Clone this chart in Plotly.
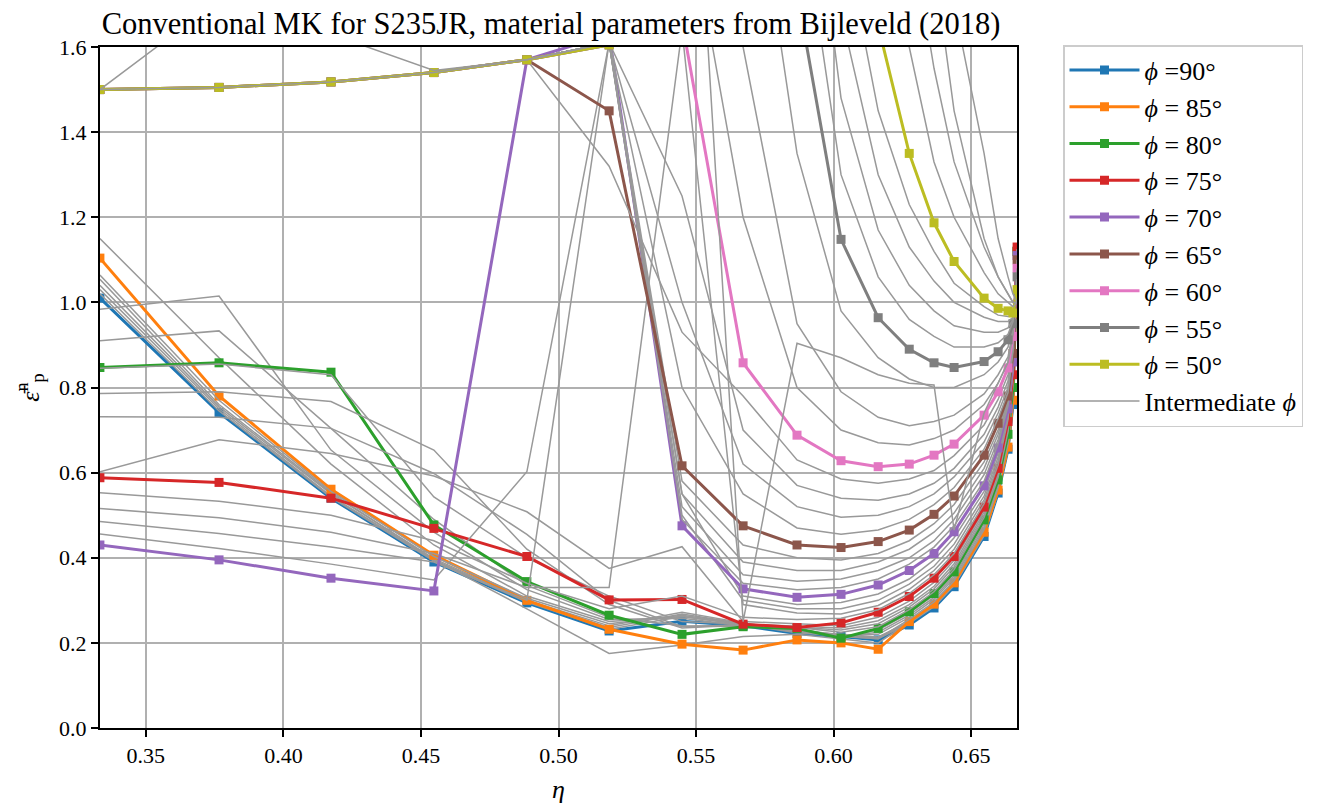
import plotly.graph_objects as go

# ---------------- data ----------------
eta = [0.3333, 0.3766, 0.4173, 0.4547, 0.4885, 0.5184, 0.5449, 0.5671, 0.5867, 0.6027,
       0.6162, 0.6275, 0.6365, 0.6438, 0.6547, 0.6598, 0.6634, 0.6652, 0.6667]

phi_labels = ["<i>\u03d5</i> =90\u00b0", "<i>\u03d5</i> = 85\u00b0", "<i>\u03d5</i> = 80\u00b0", "<i>\u03d5</i> = 75\u00b0",
              "<i>\u03d5</i> = 70\u00b0", "<i>\u03d5</i> = 65\u00b0", "<i>\u03d5</i> = 60\u00b0", "<i>\u03d5</i> = 55\u00b0",
              "<i>\u03d5</i> = 50\u00b0"]
grey_label = "Intermediate <i>\u03d5</i>"
phi_colors = ["#1f77b4", "#ff7f0e", "#2ca02c", "#d62728", "#9467bd", "#8c564b", "#e377c2", "#7f7f7f", "#bcbd22"]

phi90 = [1.010, 0.741, 0.540, 0.390, 0.294, 0.228, 0.251, 0.240, 0.222, 0.215, 0.207, 0.242, 0.282, 0.332, 0.450, 0.552, 0.655, 0.760, 1.12]
phi85 = [1.104, 0.780, 0.561, 0.406, 0.300, 0.232, 0.197, 0.183, 0.207, 0.200, 0.185, 0.250, 0.291, 0.341, 0.460, 0.559, 0.660, 0.770, 1.12]
phi80 = [0.847, 0.858, 0.836, 0.477, 0.344, 0.265, 0.220, 0.238, 0.234, 0.211, 0.234, 0.273, 0.316, 0.367, 0.489, 0.583, 0.690, 0.800, 1.12]
phi75 = [0.588, 0.577, 0.540, 0.469, 0.403, 0.301, 0.302, 0.244, 0.236, 0.247, 0.272, 0.309, 0.352, 0.403, 0.519, 0.610, 0.720, 0.830, 1.13]
phi70 = [0.430, 0.395, 0.352, 0.322, 1.570, 1.630, 0.475, 0.327, 0.307, 0.314, 0.336, 0.370, 0.410, 0.461, 0.569, 0.658, 0.750, 0.860, 1.11]
phi65 = [1.500, 1.505, 1.518, 1.540, 1.570, 1.450, 0.616, 0.475, 0.430, 0.424, 0.438, 0.465, 0.502, 0.545, 0.641, 0.716, 0.780, 0.880, 1.10]
phi60 = [1.500, 1.505, 1.518, 1.540, 1.570, 1.605, 1.660, 0.858, 0.688, 0.628, 0.614, 0.620, 0.641, 0.667, 0.735, 0.790, 0.846, 0.920, 1.08]
phi55 = [1.500, 1.505, 1.518, 1.540, 1.570, 1.605, 1.900, 2.100, 1.730, 1.148, 0.964, 0.890, 0.858, 0.847, 0.861, 0.884, 0.912, 0.950, 1.06]
phi50 = [1.500, 1.505, 1.518, 1.540, 1.570, 1.605, 1.800, 2.000, 2.100, 2.000, 1.650, 1.350, 1.187, 1.096, 1.010, 0.986, 0.980, 0.975, 1.03]

# intermediate angles (grey)
g89 = [1.020, 0.745, 0.542, 0.392, 0.296, 0.232, 0.262, 0.243, 0.224, 0.216, 0.210, 0.246, 0.285, 0.335, 0.452, 0.553, 0.656, 0.762, 1.12]
g88 = [1.030, 0.750, 0.545, 0.395, 0.298, 0.236, 0.268, 0.245, 0.226, 0.218, 0.212, 0.248, 0.287, 0.337, 0.454, 0.555, 0.657, 0.764, 1.12]
g87 = [1.040, 0.755, 0.550, 0.398, 0.300, 0.240, 0.272, 0.247, 0.228, 0.220, 0.214, 0.250, 0.289, 0.339, 0.456, 0.556, 0.658, 0.766, 1.12]
g86 = [1.054, 0.760, 0.553, 0.395, 0.280, 0.175, 0.195, 0.215, 0.220, 0.210, 0.200, 0.248, 0.290, 0.340, 0.458, 0.558, 0.659, 0.768, 1.12]
g84 = [1.064, 0.770, 0.556, 0.403, 0.305, 0.245, 0.265, 0.245, 0.230, 0.215, 0.210, 0.255, 0.296, 0.346, 0.466, 0.565, 0.667, 0.775, 1.12]
g83 = [1.150, 0.870, 0.620, 0.430, 0.310, 0.250, 0.262, 0.243, 0.232, 0.218, 0.220, 0.260, 0.302, 0.352, 0.472, 0.571, 0.673, 0.782, 1.12]
g82 = [0.984, 1.015, 0.653, 0.460, 0.325, 0.255, 0.258, 0.240, 0.233, 0.215, 0.225, 0.265, 0.307, 0.357, 0.478, 0.575, 0.679, 0.788, 1.12]
g81 = [0.910, 0.933, 0.704, 0.490, 0.335, 0.260, 0.240, 0.238, 0.233, 0.213, 0.230, 0.270, 0.312, 0.362, 0.484, 0.579, 0.685, 0.794, 1.12]
g79 = [0.786, 0.790, 0.767, 0.653, 0.420, 0.290, 0.235, 0.242, 0.236, 0.225, 0.238, 0.278, 0.320, 0.372, 0.495, 0.589, 0.696, 0.806, 1.12]
g78 = [0.731, 0.730, 0.704, 0.598, 0.455, 0.300, 0.238, 0.243, 0.237, 0.230, 0.245, 0.284, 0.327, 0.379, 0.501, 0.595, 0.702, 0.812, 1.125]
g77 = [0.845, 0.855, 0.830, 0.543, 0.400, 0.310, 0.250, 0.244, 0.238, 0.235, 0.252, 0.290, 0.333, 0.386, 0.507, 0.601, 0.708, 0.818, 1.125]
g76 = [0.602, 0.677, 0.645, 0.592, 0.508, 0.375, 0.426, 0.250, 0.245, 0.240, 0.260, 0.298, 0.342, 0.394, 0.513, 0.606, 0.714, 0.824, 1.125]
g74 = [0.553, 0.533, 0.500, 0.440, 0.340, 0.280, 0.310, 0.260, 0.255, 0.258, 0.278, 0.316, 0.360, 0.410, 0.527, 0.618, 0.725, 0.835, 1.125]
g73 = [0.516, 0.494, 0.460, 0.410, 0.330, 0.330, 1.640, 0.290, 0.270, 0.268, 0.288, 0.326, 0.370, 0.420, 0.536, 0.627, 0.731, 0.840, 1.125]
g72 = [0.485, 0.457, 0.425, 0.390, 0.300, 1.610, 0.500, 0.300, 0.280, 0.280, 0.300, 0.338, 0.380, 0.432, 0.545, 0.636, 0.738, 0.846, 1.12]
g71 = [0.456, 0.422, 0.385, 0.348, 0.602, 1.610, 0.550, 0.310, 0.290, 0.295, 0.315, 0.350, 0.395, 0.447, 0.556, 0.646, 0.746, 0.852, 1.12]
g69 = [1.500, 1.505, 1.518, 1.540, 1.570, 1.610, 0.490, 0.340, 0.325, 0.330, 0.350, 0.385, 0.425, 0.475, 0.580, 0.668, 0.757, 0.865, 1.11]
g68 = [1.500, 1.505, 1.518, 1.540, 1.570, 1.610, 0.520, 0.360, 0.345, 0.350, 0.370, 0.400, 0.440, 0.490, 0.595, 0.678, 0.764, 0.868, 1.105]
g67 = [1.500, 1.505, 1.518, 1.540, 1.570, 1.610, 0.550, 0.390, 0.370, 0.370, 0.390, 0.420, 0.460, 0.505, 0.610, 0.690, 0.770, 0.872, 1.10]
g66 = [1.500, 1.505, 1.518, 1.540, 1.570, 1.610, 0.580, 0.430, 0.400, 0.395, 0.410, 0.440, 0.480, 0.525, 0.625, 0.700, 0.775, 0.876, 1.10]
g64 = [1.500, 1.505, 1.518, 1.540, 1.570, 1.610, 0.800, 0.550, 0.470, 0.455, 0.465, 0.490, 0.525, 0.565, 0.655, 0.727, 0.788, 0.885, 1.10]
g63 = [1.500, 1.505, 1.518, 1.540, 1.570, 1.610, 1.000, 0.620, 0.520, 0.495, 0.500, 0.520, 0.550, 0.590, 0.672, 0.740, 0.800, 0.892, 1.09]
g62 = [1.500, 1.505, 1.518, 1.540, 1.570, 1.610, 1.250, 0.700, 0.570, 0.540, 0.535, 0.550, 0.575, 0.610, 0.690, 0.754, 0.815, 0.900, 1.09]
g61 = [1.500, 1.505, 1.518, 1.540, 1.570, 1.320, 0.930, 0.780, 0.630, 0.585, 0.575, 0.585, 0.605, 0.640, 0.712, 0.772, 0.830, 0.910, 1.085]
g59 = [1.500, 1.505, 1.518, 1.540, 1.570, 1.610, 2.000, 1.200, 0.800, 0.700, 0.670, 0.665, 0.680, 0.700, 0.760, 0.810, 0.860, 0.925, 1.08]
g58 = [1.500, 1.505, 1.518, 1.540, 1.570, 1.610, 2.200, 1.600, 0.950, 0.790, 0.730, 0.710, 0.720, 0.735, 0.785, 0.830, 0.872, 0.930, 1.075]
g57 = [1.500, 1.505, 1.518, 1.540, 1.570, 1.610, 2.600, 0.250, 0.904, 0.870, 0.830, 0.810, 0.806, 0.465, 0.740, 0.810, 0.860, 0.930, 1.07]
g56 = [1.500, 1.505, 1.518, 1.540, 1.570, 1.610, 2.400, 2.200, 1.350, 0.980, 0.870, 0.820, 0.800, 0.800, 0.830, 0.860, 0.895, 0.940, 1.065]
g54 = [1.500, 1.505, 1.518, 1.540, 1.570, 1.610, 2.000, 2.300, 2.000, 1.300, 1.060, 0.960, 0.920, 0.895, 0.895, 0.905, 0.925, 0.955, 1.055]
g53 = [1.500, 1.505, 1.518, 1.540, 1.570, 1.610, 2.000, 2.300, 2.300, 1.480, 1.170, 1.040, 0.980, 0.945, 0.930, 0.930, 0.940, 0.960, 1.05]
g52 = [1.500, 1.505, 1.518, 1.540, 1.570, 1.610, 2.000, 2.300, 2.400, 1.680, 1.300, 1.130, 1.050, 1.000, 0.965, 0.955, 0.955, 0.965, 1.045]
g51 = [1.500, 1.505, 1.518, 1.540, 1.570, 1.610, 2.000, 2.300, 2.400, 1.900, 1.450, 1.230, 1.120, 1.045, 0.990, 0.970, 0.967, 0.970, 1.04]
g49 = [1.500, 1.505, 1.518, 1.540, 1.570, 1.610, 2.000, 2.300, 2.400, 2.300, 2.000, 1.600, 1.330, 1.200, 1.070, 1.020, 1.000, 0.990, 1.00]
g48 = [2.200, 1.900, 1.630, 1.545, 1.570, 1.610, 2.000, 2.300, 2.400, 2.400, 2.200, 1.900, 1.550, 1.330, 1.130, 1.060, 1.020, 1.000, 1.00]
g47 = [1.700, 1.750, 1.800, 1.900, 2.000, 2.100, 2.200, 2.300, 2.400, 2.400, 2.300, 2.100, 1.800, 1.450, 1.150, 1.060, 1.020, 1.000, 1.00]
g46 = [1.500, 1.710, 1.900, 2.000, 2.100, 2.200, 2.300, 2.400, 2.400, 2.400, 2.300, 2.100, 1.900, 1.700, 1.350, 1.150, 1.060, 1.020, 1.00]

colored = {90: phi90, 85: phi85, 80: phi80, 75: phi75, 70: phi70, 65: phi65, 60: phi60, 55: phi55, 50: phi50}
grey = {89: g89, 88: g88, 87: g87, 86: g86, 84: g84, 83: g83, 82: g82, 81: g81,
        79: g79, 78: g78, 77: g77, 76: g76, 74: g74, 73: g73, 72: g72, 71: g71,
        69: g69, 68: g68, 67: g67, 66: g66, 64: g64, 63: g63, 62: g62, 61: g61,
        59: g59, 58: g58, 57: g57, 56: g56, 54: g54, 53: g53, 52: g52, 51: g51,
        49: g49, 48: g48, 47: g47, 46: g46}

FONT = "Liberation Serif"
GREY = "#999999"

fig = go.Figure()
shown_grey = False
for phi in range(90, 45, -1):
    if phi in colored:
        k = [90, 85, 80, 75, 70, 65, 60, 55, 50].index(phi)
        fig.add_trace(go.Scatter(
            x=eta, y=colored[phi], mode="lines+markers",
            name=phi_labels[k], legendgroup=f"g{phi}", legendrank=k + 1,
            line=dict(color=phi_colors[k], width=3),
            marker=dict(symbol="square", size=9, color=phi_colors[k]),
        ))
    elif phi in grey:
        fig.add_trace(go.Scatter(
            x=eta, y=grey[phi], mode="lines",
            name=grey_label, legendgroup="grey", legendrank=20,
            showlegend=not shown_grey,
            line=dict(color=GREY, width=1.5),
        ))
        shown_grey = True

axis_common = dict(
    showline=True, linecolor="black", linewidth=2, mirror=True,
    ticks="outside", ticklen=7, tickwidth=1.5, tickcolor="black",
    showgrid=True, gridcolor="#b0b0b0", gridwidth=1.6, zeroline=False,
    tickfont=dict(family=FONT, size=22, color="black"),
    automargin=False,
)

fig.update_xaxes(range=[1 / 3, 2 / 3], tickvals=[0.35, 0.40, 0.45, 0.50, 0.55, 0.60, 0.65],
                 ticktext=["0.35", "0.40", "0.45", "0.50", "0.55", "0.60", "0.65"],
                 title=dict(text="<i>\u03b7</i>", font=dict(family=FONT, size=26, color="black"), standoff=12),
                 **axis_common)
fig.update_yaxes(range=[0, 1.6], tickvals=[0, 0.2, 0.4, 0.6, 0.8, 1.0, 1.2, 1.4, 1.6],
                 ticktext=["0.0", "0.2", "0.4", "0.6", "0.8", "1.0", "1.2", "1.4", "1.6"],
                 title=dict(text="<i>\u03b5\u0304</i><sup>n</sup><sub>p</sub>",
                            font=dict(family=FONT, size=26, color="black"), standoff=12),
                 **axis_common)

fig.update_layout(
    width=1324, height=804,
    font=dict(family=FONT, color="black"),
    margin=dict(l=100, r=307, t=47, b=76, autoexpand=False),
    plot_bgcolor="white", paper_bgcolor="white",
    title=dict(text="Conventional MK for S235JR, material parameters from Bijleveld (2018)",
               font=dict(family=FONT, size=30.5, color="black"),
               x=(551 - 100) / 917, xref="paper", xanchor="center", y=1 - 23 / 804, yref="container",
               yanchor="middle", automargin=False),
    legend=dict(x=(1063 - 100) / 917, y=1 + 2 / 681, xanchor="left", yanchor="top",
                font=dict(family=FONT, size=26, color="black"),
                bordercolor="#cccccc", borderwidth=1.5, bgcolor="white",
                tracegroupgap=0, itemwidth=70),
    showlegend=True,
)

fig.write_html("out.html", config={"displayModeBar": False},
               post_script="document.body.style.margin='0';document.body.style.padding='0';")
